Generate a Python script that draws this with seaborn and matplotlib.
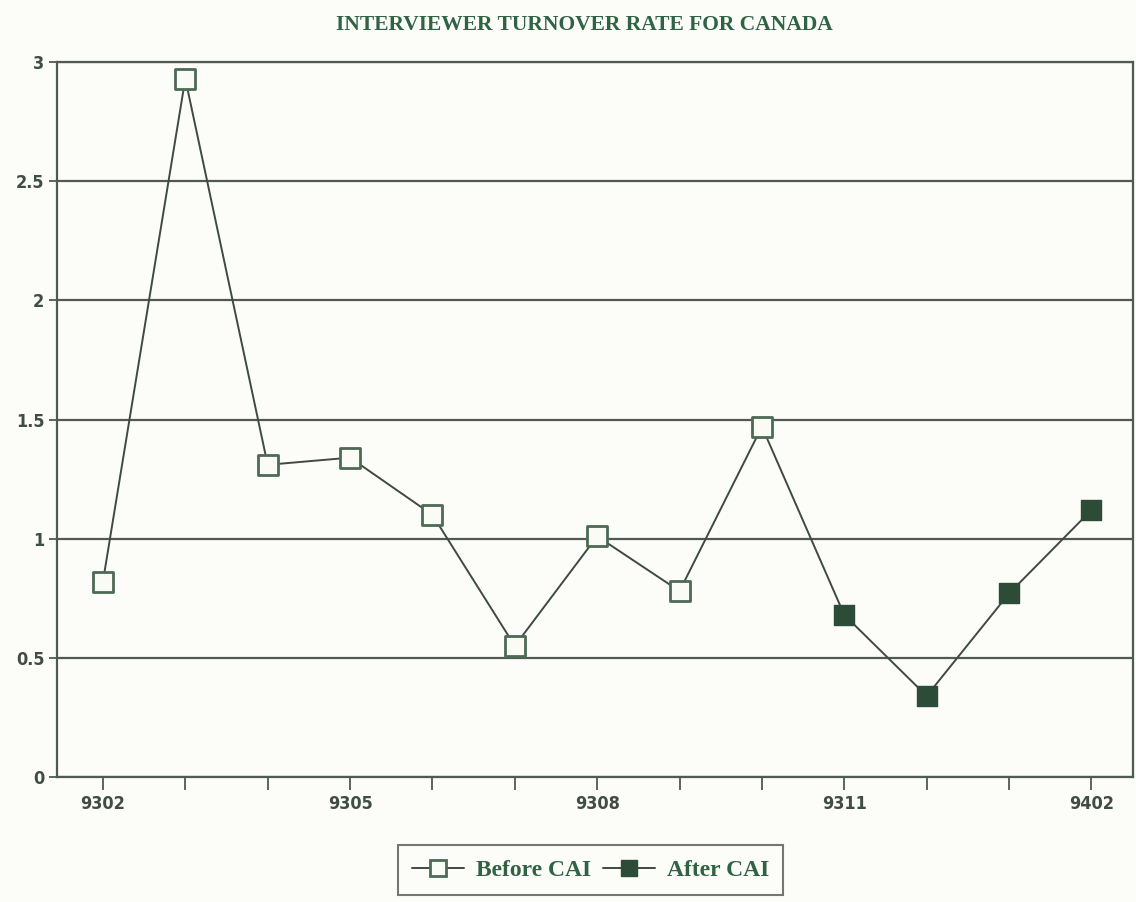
import numpy as np
import pandas as pd
import matplotlib
matplotlib.use("Agg")
import matplotlib.pyplot as plt
import seaborn as sns
from matplotlib.lines import Line2D

# ---- data ----
periods = ["9302", "9303", "9304", "9305", "9306", "9307", "9308",
           "9309", "9310", "9311", "9312", "9401", "9402"]
before_cai = [0.82, 2.93, 1.31, 1.34, 1.10, 0.55, 1.01, 0.78, 1.47]
after_cai = [0.68, 0.34, 0.77, 1.12]
tick_labels = ["9302", "", "", "9305", "", "", "9308", "", "", "9311", "", "", "9402"]
title = "INTERVIEWER TURNOVER RATE FOR CANADA"
series_names = ["Before CAI", "After CAI"]

values = before_cai + after_cai
groups = [series_names[0]] * len(before_cai) + [series_names[1]] * len(after_cai)
df = pd.DataFrame({"pos": np.arange(len(periods)), "period": periods,
                   "rate": values, "group": groups})

sns.set_theme(style="white")
plt.rcParams["font.family"] = ["DejaVu Sans"]

LINE = "#3e4a43"
GRID = "#4f5a53"
OPEN_EDGE = "#4d6a55"
FILLED = "#2c4c37"
TEXT = "#3f4d45"
GREEN_TEXT = "#2f6343"
BG = "#fcfcf8"

fig = plt.figure(figsize=(11.36, 9.02), dpi=100, facecolor=BG)
ax = fig.add_axes([0.050, 0.1386, 0.947, 0.7926])
ax.set_facecolor(BG)

# connecting line through all points
sns.lineplot(data=df, x="pos", y="rate", ax=ax, color=LINE, linewidth=1.4,
             sort=True, legend=False, zorder=3)

# markers
bdf = df[df["group"] == series_names[0]]
adf = df[df["group"] == series_names[1]]
sns.scatterplot(data=bdf, x="pos", y="rate", ax=ax, marker="s", s=200,
                facecolor="#fbfbf6", edgecolor=OPEN_EDGE, linewidth=2.0,
                legend=False, zorder=4)
sns.scatterplot(data=adf, x="pos", y="rate", ax=ax, marker="s", s=200,
                color=FILLED, edgecolor=FILLED, linewidth=1.0,
                legend=False, zorder=4)

ax.set_xlim(-0.56, 12.5)
ax.set_ylim(0, 3)
ax.set_yticks([0, 0.5, 1, 1.5, 2, 2.5, 3])
ax.set_yticklabels(["0", "0.5", "1", "1.5", "2", "2.5", "3"])
ax.set_xticks(df["pos"])
ax.set_xticklabels(tick_labels)
ax.set_xlabel("")
ax.set_ylabel("")

ax.yaxis.grid(True, color=GRID, linewidth=1.6)
ax.xaxis.grid(False)
ax.set_axisbelow(True)
for s in ax.spines.values():
    s.set_color(GRID)
    s.set_linewidth(1.6)
    s.set_visible(True)

ax.tick_params(axis="x", direction="out", length=9, width=1.3, color=GRID,
               bottom=True, pad=4, labelsize=13, labelcolor=TEXT)
ax.tick_params(axis="y", direction="out", length=6, width=1.3, color=GRID,
               left=True, pad=3, labelsize=13, labelcolor=TEXT)
for lab in ax.get_xticklabels() + ax.get_yticklabels():
    lab.set_fontweight("bold")
    lab.set_fontstretch("condensed")

fig.text(0.514, 0.972, title, ha="center", va="center", fontsize=15.5,
         fontweight="bold", color=GREEN_TEXT, family=["Liberation Serif"])

handles = [
    Line2D([], [], color=LINE, linewidth=1.4, marker="s", markersize=11,
           markerfacecolor="#fbfbf6", markeredgecolor=OPEN_EDGE, markeredgewidth=2),
    Line2D([], [], color=LINE, linewidth=1.4, marker="s", markersize=11,
           markerfacecolor=FILLED, markeredgecolor=FILLED),
]
leg = fig.legend(handles, series_names, loc="center", bbox_to_anchor=(0.52, 0.035),
                 ncol=2, frameon=True, fancybox=False, handlelength=2.2,
                 handletextpad=0.5, columnspacing=0.5, borderpad=0.6,
                 prop={"family": "Liberation Serif", "weight": "bold", "size": 17})
leg.get_frame().set_edgecolor("#555")
leg.get_frame().set_linewidth(1.5)
leg.get_frame().set_facecolor(BG)
for t in leg.get_texts():
    t.set_color(GREEN_TEXT)

fig.savefig("out.png", dpi=100, facecolor=BG)
